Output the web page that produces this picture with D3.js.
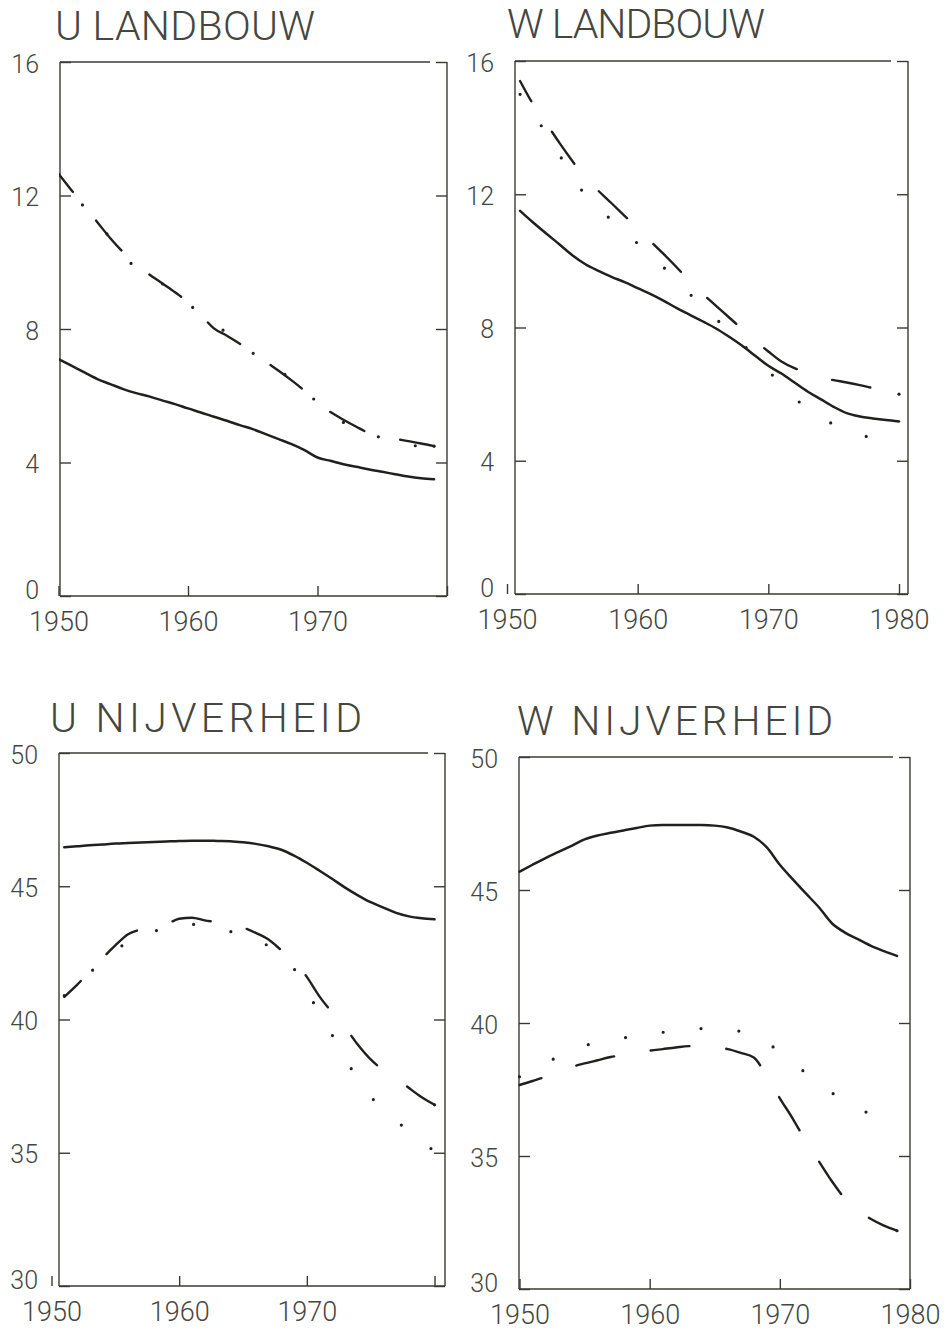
<!DOCTYPE html>
<html>
<head>
<meta charset="utf-8">
<script src="https://cdn.jsdelivr.net/npm/d3@7/dist/d3.min.js"></script>
<style>
  html, body { margin: 0; padding: 0; background: #ffffff; }
  svg { display: block; }
  text { font-family: Roboto, "DejaVu Sans", sans-serif; font-weight: 300; fill: #45473f; }
</style>
</head>
<body>
<svg id="chart" width="946" height="1332"></svg>
<script>
// Years covered by each panel's series
const yearsUL = [1950,1951,1952,1953,1954,1955,1956,1957,1958,1959,1960,1961,1962,1963,1964,
                 1965,1966,1967,1968,1969,1970,1971,1972,1973,1974,1975,1976,1977,1978,1979];
const yearsWL = [1951,1952,1953,1954,1955,1956,1957,1958,1959,1960,1961,1962,1963,1964,1965,
                 1966,1967,1968,1969,1970,1971,1972,1973,1974,1975,1976,1977,1978,1979,1980];
const yearsUN = [1951,1952,1953,1954,1955,1956,1957,1958,1959,1960,1961,1962,1963,1964,1965,
                 1966,1967,1968,1969,1970,1971,1972,1973,1974,1975,1976,1977,1978,1979,1980];
const yearsWN = [1950,1951,1952,1953,1954,1955,1956,1957,1958,1959,1960,1961,1962,1963,1964,
                 1965,1966,1967,1968,1969,1970,1971,1972,1973,1974,1975,1976,1977,1978,1979];

// U LANDBOUW
const ulSolid  = [7.1,6.9,6.7,6.5,6.35,6.2,6.08,5.98,5.86,5.75,5.62,5.5,5.37,5.25,5.12,
                  5.0,4.85,4.7,4.55,4.37,4.15,4.05,3.95,3.87,3.79,3.72,3.65,3.58,3.53,3.5];
const ulDashed = [12.65,12.16,11.68,11.2,10.72,10.3,9.95,9.64,9.37,9.1,8.8,8.42,8.02,7.8,7.56,
                  7.3,7.02,6.75,6.46,6.15,5.8,5.51,5.28,5.07,4.88,4.78,4.71,4.64,4.57,4.49];
const ulDotted = [12.6,12.1,11.65,11.2,10.72,10.22,9.82,9.58,9.36,9.08,8.76,8.45,8.16,7.88,7.58,
                  7.28,7.0,6.76,6.5,6.15,5.8,5.45,5.2,4.98,4.84,4.74,4.65,4.55,4.46,4.35];

// W LANDBOUW
const wlSolid  = [11.5,11.15,10.82,10.5,10.17,9.9,9.7,9.52,9.36,9.18,9.0,8.8,8.58,8.38,8.18,
                  7.97,7.72,7.45,7.15,6.85,6.62,6.35,6.08,5.85,5.62,5.43,5.33,5.27,5.22,5.18];
const wlDashed = [15.4,14.7,14.13,13.55,13.0,12.48,12.1,11.73,11.35,10.97,10.58,10.2,9.8,9.38,9.0,
                  8.65,8.3,7.95,7.6,7.28,6.98,6.78,6.64,6.5,6.42,6.35,6.27,6.18,6.09,6.0];
const wlDotted = [15.0,14.44,13.82,13.2,12.47,12.0,11.6,11.22,10.88,10.52,10.16,9.8,9.4,9.0,8.63,
                  8.25,7.93,7.52,7.1,6.7,6.28,5.88,5.58,5.28,5.1,4.94,4.79,4.67,4.55,4.45];

// U NIJVERHEID
const unSolid  = [46.46,46.5,46.54,46.57,46.6,46.62,46.64,46.66,46.68,46.7,46.71,46.71,46.7,46.69,46.65,
                  46.59,46.5,46.37,46.15,45.88,45.58,45.27,44.95,44.66,44.4,44.2,44.0,43.87,43.8,43.76];
const unDashed = [40.85,41.3,41.8,42.3,42.78,43.2,43.38,43.5,43.58,43.78,43.82,43.72,43.65,43.57,43.45,
                  43.25,43.0,42.6,42.2,41.6,40.86,40.25,39.7,39.05,38.5,38.1,37.8,37.43,37.08,36.8];
const unDotted = [40.9,41.3,41.75,42.2,42.6,42.9,43.12,43.3,43.45,43.56,43.57,43.52,43.42,43.3,43.18,
                  43.03,42.75,42.4,41.9,41.1,40.2,39.4,38.55,37.75,37.1,36.65,36.2,35.8,35.35,35.1];

// W NIJVERHEID
const wnSolid  = [45.69,45.95,46.2,46.43,46.66,46.9,47.05,47.15,47.24,47.33,47.42,47.44,47.44,47.44,47.44,
                  47.42,47.35,47.2,47.0,46.6,45.95,45.4,44.87,44.35,43.75,43.4,43.15,42.9,42.7,42.52];
const wnDashed = [37.67,37.82,37.98,38.18,38.35,38.48,38.6,38.72,38.8,38.88,38.96,39.02,39.08,39.13,39.12,
                  39.08,39.02,38.88,38.7,38.0,37.17,36.4,35.55,34.8,34.05,33.4,32.95,32.63,32.38,32.19];
const wnDotted = [37.98,38.25,38.48,38.75,38.97,39.15,39.25,39.35,39.44,39.52,39.58,39.65,39.7,39.75,39.79,
                  39.79,39.75,39.68,39.5,39.25,38.92,38.5,38.12,37.75,37.38,37.0,36.75,36.6,36.48,36.39];

// Axis ticks
const yTicksLandbouw   = [0, 4, 8, 12, 16];
const yTicksNijverheid = [30, 35, 40, 45, 50];
const xTicks = [1950, 1960, 1970, 1980];
const xLabelsShort = [1950, 1960, 1970];
const xLabelsFull  = [1950, 1960, 1970, 1980];

const titles = ["U LANDBOUW", "W LANDBOUW", "U NIJVERHEID", "W NIJVERHEID"];

const INK = "#1f211c";
const FRAME = "#383b33";

// Panel layout: plotting frame, scale ranges and title placement
const panels = [
  { title: titles[0], years: yearsUL, solid: ulSolid, dashed: ulDashed, dotted: ulDotted,
    yDomain: [0, 16], yTicks: yTicksLandbouw, xLabels: xLabelsShort,
    xRange: [58.5, 447], frame: { l: 60, r: 447, t: 62, b: 596 },
    titleX: 55, titleY: 40, titleW: 260 },
  { title: titles[1], years: yearsWL, solid: wlSolid, dashed: wlDashed, dotted: wlDotted,
    yDomain: [0, 16], yTicks: yTicksLandbouw, xLabels: xLabelsFull,
    xRange: [507, 899], frame: { l: 515, r: 908, t: 61, b: 594 },
    titleX: 507, titleY: 38, titleW: 258 },
  { title: titles[2], years: yearsUN, solid: unSolid, dashed: unDashed, dotted: unDotted,
    yDomain: [30, 50], yTicks: yTicksNijverheid, xLabels: xLabelsShort,
    xRange: [51.5, 434.5], frame: { l: 59, r: 445, t: 753, b: 1286 },
    titleX: 50, titleY: 732, titleW: 312 },
  { title: titles[3], years: yearsWN, solid: wnSolid, dashed: wnDashed, dotted: wnDotted,
    yDomain: [30, 50], yTicks: yTicksNijverheid, xLabels: xLabelsFull,
    xRange: [519.5, 910], frame: { l: 519, r: 910, t: 757, b: 1289 },
    titleX: 517, titleY: 735, titleW: 316 }
];

const svg = d3.select("#chart");
const defs = svg.append("defs");

panels.forEach((p, i) => {
  const f = p.frame;
  const x = d3.scaleLinear().domain([1950, 1980]).range(p.xRange);
  const y = d3.scaleLinear().domain(p.yDomain).range([f.b, f.t]);
  const g = svg.append("g").attr("class", "panel");

  // Title
  g.append("text")
    .attr("x", p.titleX).attr("y", p.titleY)
    .attr("textLength", p.titleW).attr("lengthAdjust", "spacing")
    .style("font-size", "41px")
    .text(p.title);

  // Frame: left, bottom, right, and a top edge that stops short of the corner
  const frame = g.append("g")
    .attr("stroke", FRAME).attr("stroke-width", 1.4).attr("fill", "none");
  frame.append("line").attr("x1", f.l).attr("x2", f.l).attr("y1", f.t).attr("y2", f.b);
  frame.append("line").attr("x1", f.l).attr("x2", f.r).attr("y1", f.b).attr("y2", f.b);
  frame.append("line").attr("x1", f.r).attr("x2", f.r).attr("y1", f.t).attr("y2", f.b);
  frame.append("line").attr("x1", f.l).attr("x2", f.r - 17).attr("y1", f.t).attr("y2", f.t);

  // Left axis: inward ticks with value labels
  const yMin = p.yDomain[0];
  const left = g.append("g").attr("transform", `translate(${f.l},0)`)
    .call(d3.axisLeft(y).tickValues(p.yTicks).tickSizeInner(-11).tickSizeOuter(0)
      .tickPadding(21).tickFormat(d3.format("d")));
  left.select(".domain").remove();
  left.selectAll("line").attr("stroke", FRAME).attr("stroke-width", 1.4);
  left.selectAll("text")
    .attr("dy", d => d === yMin ? "0.1em" : "0.4em")   // lowest label sits just clear of the year labels
    .style("font-size", "25px").style("font-family", null).attr("fill", null);

  // Right axis: inward ticks only
  const right = g.append("g").attr("transform", `translate(${f.r},0)`)
    .call(d3.axisRight(y).tickValues(p.yTicks).tickSizeInner(-11).tickSizeOuter(0)
      .tickFormat(""));
  right.select(".domain").remove();
  right.selectAll("line").attr("stroke", FRAME).attr("stroke-width", 1.4);

  // Bottom axis: upward ticks and year labels
  const bottom = g.append("g").attr("transform", `translate(0,${f.b})`)
    .call(d3.axisBottom(x).tickValues(xTicks).tickSizeInner(-10).tickSizeOuter(0)
      .tickPadding(16).tickFormat(d => p.xLabels.includes(d) ? d3.format("d")(d) : ""));
  bottom.select(".domain").remove();
  bottom.selectAll("line").attr("stroke", FRAME).attr("stroke-width", 1.4);
  bottom.selectAll("text")
    .style("font-size", "27px").style("font-family", null).attr("fill", null);

  // Clip the series to the frame
  const clipId = "clip" + i;
  defs.append("clipPath").attr("id", clipId)
    .append("rect").attr("x", f.l - 1).attr("y", f.t - 1)
    .attr("width", f.r - f.l + 2).attr("height", f.b - f.t + 2);
  const plot = g.append("g").attr("clip-path", `url(#${clipId})`);

  const line = d3.line()
    .x((d, k) => x(p.years[k]))
    .y(d => y(d))
    .curve(d3.curveMonotoneX);

  // Solid series
  plot.append("path").datum(p.solid)
    .attr("d", line).attr("fill", "none")
    .attr("stroke", INK).attr("stroke-width", 2.5)
    .attr("stroke-linejoin", "round").attr("stroke-linecap", "round");

  // Dashed series
  plot.append("path").datum(p.dashed)
    .attr("d", line).attr("fill", "none")
    .attr("stroke", INK).attr("stroke-width", 2.4)
    .attr("stroke-dasharray", "39 37").attr("stroke-dashoffset", 16)
    .attr("stroke-linecap", "round");
  // pen mark at the last point of the dashed series
  const lastK = p.dashed.length - 1;
  plot.append("circle")
    .attr("cx", x(p.years[lastK])).attr("cy", y(p.dashed[lastK]))
    .attr("r", 1.6).attr("fill", INK);

  // Dotted series
  plot.append("path").datum(p.dotted)
    .attr("d", line).attr("fill", "none")
    .attr("stroke", INK).attr("stroke-width", 3.2)
    .attr("stroke-dasharray", "0 38")
    .attr("stroke-linecap", "round");
});
</script>
</body>
</html>
